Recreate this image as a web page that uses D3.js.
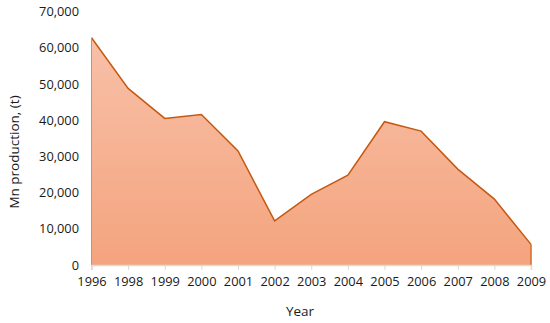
<!DOCTYPE html>
<html><head><meta charset="utf-8">
<script src="https://cdn.jsdelivr.net/npm/d3@7"></script>
<style>body{margin:0;background:#fff}svg{display:block}text{font-family:"Open Sans","Noto Sans",sans-serif;fill:#1a1a1a}</style>
</head><body><svg id="c" width="550" height="323"></svg>
<script>
const years = ["1996","1998","1999","2000","2001","2002","2003","2004","2005","2006","2007","2008","2009"];
const production = [62800,48800,40500,41600,31500,12200,19500,24800,39600,37000,26500,18200,5700];
const yTicks = [0,10000,20000,30000,40000,50000,60000,70000];

const svg = d3.select("#c");
const m = {l:91.5, r:19, t:11.7, b:58};
const W = 550, H = 323;
const x = d3.scalePoint().domain(years).range([m.l, W-m.r]);
const y = d3.scaleLinear().domain([0,70000]).range([H-m.b, m.t]);

const defs = svg.append("defs");
const g = defs.append("linearGradient").attr("id","grad").attr("x1",0).attr("y1",0).attr("x2",0).attr("y2",1);
g.append("stop").attr("offset","0%").attr("stop-color","#f8c0a8");
g.append("stop").attr("offset","100%").attr("stop-color","#f4a47e");

const data = years.map((d,i)=>({year:d, v:production[i]}));
const area = d3.area().x(d=>x(d.year)).y0(y(0)).y1(d=>y(d.v));
svg.append("path").datum(data).attr("d",area).attr("fill","url(#grad)").attr("stroke","none");
svg.append("path").datum(data)
  .attr("d", d3.line().x(d=>x(d.year)).y(d=>y(d.v)))
  .attr("fill","none").attr("stroke","#c65911").attr("stroke-width",1.5);
svg.append("line").attr("x1",x(years[0])).attr("x2",x(years[0])).attr("y1",y(0)).attr("y2",y(production[0])).attr("stroke","#e08a5e").attr("stroke-width",1);
svg.append("line").attr("x1",x(years[years.length-1])).attr("x2",x(years[years.length-1])).attr("y1",y(0)).attr("y2",y(production[production.length-1])).attr("stroke","#d06a2c").attr("stroke-width",1.5);

const xa = svg.append("g").attr("transform",`translate(0,${y(0)})`)
  .call(d3.axisBottom(x).tickSize(5).tickPadding(7));
xa.select(".domain").attr("stroke","#d9d9d9").attr("stroke-width",1.5);
xa.selectAll(".tick line").attr("stroke","#d9d9d9");
xa.selectAll("text").attr("font-size","12.8px").attr("fill","#1a1a1a");

const ya = svg.append("g").attr("transform",`translate(79,0)`)
  .call(d3.axisLeft(y).tickValues(yTicks).tickSize(0).tickPadding(0).tickFormat(d3.format(",")));
ya.select(".domain").remove();
ya.selectAll("text").attr("font-size","12.8px").attr("fill","#1a1a1a");

svg.append("text").attr("x",300).attr("y",316).attr("text-anchor","middle").attr("font-size","13.5px").text("Year");
svg.append("text").attr("transform","translate(19,152) rotate(-90)").attr("text-anchor","middle").attr("font-size","13.5px").text("Mn production, (t)");
</script></body></html>
